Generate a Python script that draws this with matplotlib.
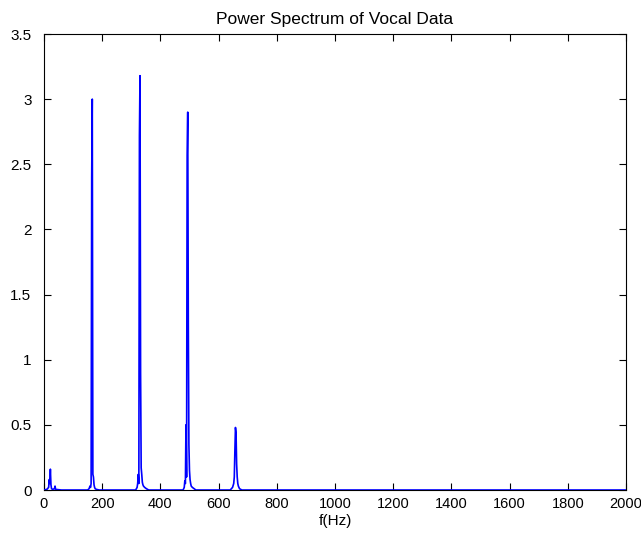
import matplotlib
matplotlib.use("Agg")
import matplotlib.pyplot as plt

# Frequency (Hz) and power values
freq = [0, 10, 16, 18, 20, 22, 24, 26, 30, 36, 38, 40, 60,
        150, 155, 158, 160, 162, 164, 166, 168, 170, 172, 174, 176, 180, 190,
        315, 320, 322, 324, 326, 328, 330, 332, 334, 336, 338, 340, 342, 346, 352, 360,
        478, 482, 484, 486, 488, 490, 492, 494, 496, 498, 500, 502, 504, 506, 510, 516, 522,
        640, 648, 652, 654, 656, 658, 660, 662, 664, 666, 668, 672, 680,
        2000]
power = [0.0, 0.005, 0.02, 0.08, 0.05, 0.16, 0.04, 0.01, 0.005, 0.01, 0.03, 0.005, 0.0,
         0.0, 0.01, 0.03, 0.02, 0.05, 2.4, 3.0, 0.12, 0.10, 0.04, 0.02, 0.01, 0.005, 0.0,
         0.0, 0.02, 0.05, 0.12, 0.05, 2.72, 3.18, 0.9, 0.17, 0.12, 0.06, 0.04, 0.03, 0.02, 0.01, 0.0,
         0.0, 0.02, 0.07, 0.05, 0.5, 0.1, 2.57, 2.9, 1.27, 0.35, 0.15, 0.08, 0.05, 0.03, 0.02, 0.01, 0.0,
         0.0, 0.02, 0.05, 0.1, 0.3, 0.48, 0.44, 0.2, 0.1, 0.05, 0.03, 0.01, 0.0,
         0.0]

plt.rcParams['font.family'] = ['Liberation Sans', 'DejaVu Sans']

fig = plt.figure(figsize=(6.41, 5.38), dpi=100)
ax = fig.add_axes([0.0686, 0.0892, 0.9080, 0.8476])

# blue spectrum line, drawn above the bottom spine like the original
ax.plot(freq, power, color=(0, 0, 1), linewidth=1.2, zorder=3)

ax.set_xlim(0, 2000)
ax.set_ylim(0, 3.5)
ax.set_xticks(range(0, 2001, 200))
ax.set_yticks([0, 0.5, 1, 1.5, 2, 2.5, 3, 3.5])
ax.set_yticklabels(["0", "0.5", "1", "1.5", "2", "2.5", "3", "3.5"])
ax.tick_params(direction="in", top=True, right=True, length=5, width=0.8)
ax.tick_params(axis="y", pad=9, labelsize=11)
ax.tick_params(axis="x", pad=5, labelsize=10.5)
for s in ax.spines.values():
    s.set_linewidth(0.8)

ax.set_title("Power Spectrum of Vocal Data", fontsize=12.5, pad=7)
ax.set_xlabel("f(Hz)", fontsize=11, labelpad=2)

fig.savefig("out.png", dpi=100)
